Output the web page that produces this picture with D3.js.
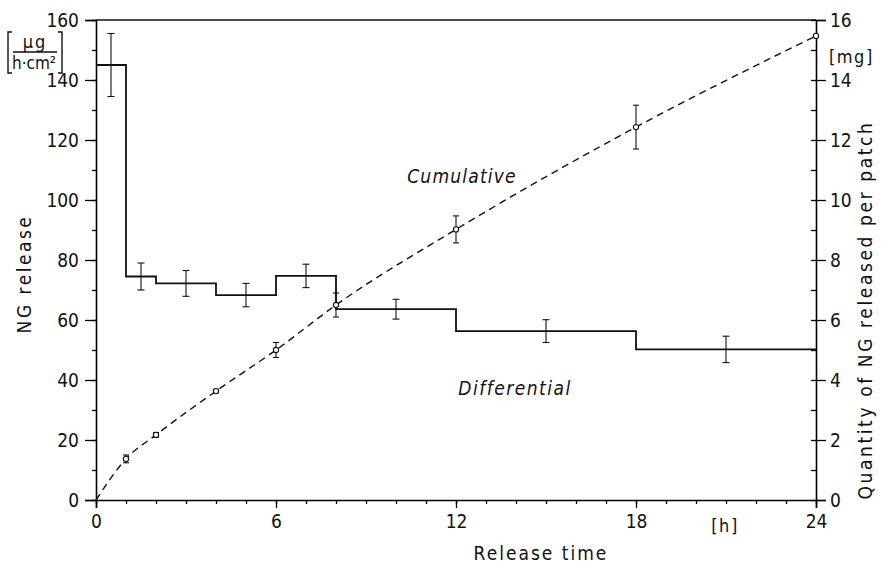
<!DOCTYPE html>
<html>
<head>
<meta charset="utf-8">
<script src="https://cdn.jsdelivr.net/npm/d3@7"></script>
<style>
  body { margin: 0; background: #fff; }
  svg text { fill: #111; }
</style>
</head>
<body>
<div id="chart"></div>
<script>
// differential release (left axis, µg/(h·cm²)), one value per collection interval
var binEdges = [0, 1, 2, 4, 6, 8, 12, 18, 24];
var diffRate = [145, 74.5, 72.2, 68.3, 74.7, 63.6, 56.3, 50.2];
var diffErr  = [10.5, 4.5, 4.3, 3.9, 3.9, 3.3, 3.8, 4.4];

// cumulative amount (right axis, mg per patch)
var cumTime = [0, 1, 2, 4, 6, 8, 12, 18, 24];
var cumMg   = [0, 1.37, 2.17, 3.63, 5.0, 6.5, 9.02, 12.43, 15.47];
var cumErr  = [0, 0.13, 0.08, 0.06, 0.25, 0.4, 0.45, 0.73, 0];

var xTicks = [0, 6, 12, 18, 24];
var leftTicks = [0, 20, 40, 60, 80, 100, 120, 140, 160];
var rightTicks = [0, 2, 4, 6, 8, 10, 12, 14, 16];

const width = 882, height = 567;
const margin = {top: 20, right: 66, bottom: 67, left: 96};
const FONT = "'Liberation Sans Narrow','DejaVu Sans Condensed',sans-serif";

var x = d3.scaleLinear().domain([0, 24]).range([margin.left, width - margin.right]);
var yL = d3.scaleLinear().domain([0, 160]).range([height - margin.bottom, margin.top]);
var yR = d3.scaleLinear().domain([0, 16]).range([height - margin.bottom, margin.top]);

var svg = d3.select("#chart").append("svg")
    .attr("width", width)
    .attr("height", height)
    .style("font-family", FONT)
    .style("font-stretch", "condensed");

// top frame line
svg.append("line")
    .attr("x1", x(0)).attr("x2", x(24))
    .attr("y1", yL(160)).attr("y2", yL(160))
    .attr("stroke", "#111").attr("stroke-width", 1.4);

// bottom axis: minor ticks each hour, then labelled ticks
var xAxisG = svg.append("g")
    .attr("transform", "translate(0," + yL(0) + ")");
xAxisG.append("g")
    .call(d3.axisBottom(x).ticks(24).tickSize(4).tickFormat(""))
    .call(g => g.select(".domain").remove());
xAxisG.append("g")
    .call(d3.axisBottom(x).tickValues(xTicks).tickSize(8).tickPadding(7).tickFormat(d3.format("d")))
    .call(g => g.selectAll("text").attr("font-size", 19).style("font-family", FONT));

// left axis
var yLG = svg.append("g").attr("transform", "translate(" + x(0) + ",0)");
yLG.append("g")
    .call(d3.axisLeft(yL).ticks(16).tickSize(4).tickFormat(""))
    .call(g => g.select(".domain").remove());
yLG.append("g")
    .call(d3.axisLeft(yL).tickValues(leftTicks).tickSize(11).tickPadding(6))
    .call(g => g.selectAll("text").attr("font-size", 19).style("font-family", FONT));

// right axis: minor ticks inward, majors outward
var yRG = svg.append("g").attr("transform", "translate(" + x(24) + ",0)");
yRG.append("g")
    .call(d3.axisLeft(yR).ticks(16).tickSize(5).tickFormat(""))
    .call(g => g.select(".domain").remove());
yRG.append("g")
    .call(d3.axisRight(yR).tickValues(rightTicks).tickSize(10).tickPadding(4))
    .call(g => g.selectAll("text").attr("font-size", 19).style("font-family", FONT));

svg.selectAll(".domain").attr("stroke-width", 1.6);
svg.selectAll(".tick line").attr("stroke-width", 1.3);

// differential step line
var stepPts = binEdges.map(function(e, i) {
  return {t: e, v: diffRate[Math.min(i, diffRate.length - 1)]};
});
var stepLine = d3.line()
    .x(function(d) { return x(d.t); })
    .y(function(d) { return yL(d.v); })
    .curve(d3.curveStepAfter);
svg.append("path")
    .attr("d", stepLine(stepPts))
    .attr("fill", "none")
    .attr("stroke", "#111")
    .attr("stroke-width", 1.8);

// error bars of differential values at interval midpoints
var diffBars = diffRate.map(function(v, i) {
  return {t: (binEdges[i] + binEdges[i + 1]) / 2, v: v, e: diffErr[i]};
});
function errorBars(sel, data, ys, cap) {
  var g = sel.append("g").attr("stroke", "#111").attr("stroke-width", 1.1);
  g.selectAll(".v").data(data).enter().append("line")
      .attr("x1", d => x(d.t)).attr("x2", d => x(d.t))
      .attr("y1", d => ys(d.v - d.e)).attr("y2", d => ys(d.v + d.e));
  g.selectAll(".top").data(data).enter().append("line")
      .attr("x1", d => x(d.t) - cap).attr("x2", d => x(d.t) + cap)
      .attr("y1", d => ys(d.v + d.e)).attr("y2", d => ys(d.v + d.e));
  g.selectAll(".bot").data(data).enter().append("line")
      .attr("x1", d => x(d.t) - cap).attr("x2", d => x(d.t) + cap)
      .attr("y1", d => ys(d.v - d.e)).attr("y2", d => ys(d.v - d.e));
}
errorBars(svg, diffBars, yL, 3.5);

// cumulative dashed curve
var cumPts = cumTime.map(function(t, i) { return {t: t, v: cumMg[i], e: cumErr[i]}; });
var cumLine = d3.line()
    .x(d => x(d.t))
    .y(d => yR(d.v))
    .curve(d3.curveMonotoneX);
svg.append("path")
    .attr("d", cumLine(cumPts))
    .attr("fill", "none")
    .attr("stroke", "#111")
    .attr("stroke-width", 1.4)
    .attr("stroke-dasharray", "7,5");

errorBars(svg, cumPts.filter(d => d.e > 0), yR, 3);

svg.append("g").selectAll("circle")
    .data(cumPts.slice(1))
    .enter().append("circle")
    .attr("cx", d => x(d.t))
    .attr("cy", d => yR(d.v))
    .attr("r", 2.6)
    .attr("fill", "#fff")
    .attr("stroke", "#111")
    .attr("stroke-width", 1.1);

// curve labels
svg.append("text")
    .attr("x", 462).attr("y", 183)
    .attr("text-anchor", "middle")
    .attr("font-size", 19).attr("font-style", "italic")
    .attr("letter-spacing", 1.2)
    .text("Cumulative");
svg.append("text")
    .attr("x", 515).attr("y", 395)
    .attr("text-anchor", "middle")
    .attr("font-size", 19).attr("font-style", "italic")
    .attr("letter-spacing", 1.5)
    .text("Differential");

// axis titles
svg.append("text")
    .attr("x", 541).attr("y", 560)
    .attr("text-anchor", "middle")
    .attr("font-size", 19).attr("letter-spacing", 2)
    .text("Release time");
svg.append("text")
    .attr("x", 725).attr("y", 532)
    .attr("text-anchor", "middle")
    .attr("font-size", 18).attr("letter-spacing", 1.5)
    .text("[h]");
svg.append("text")
    .attr("transform", "translate(31,274) rotate(-90)")
    .attr("text-anchor", "middle")
    .attr("font-size", 19).attr("letter-spacing", 2.5)
    .text("NG release");
svg.append("text")
    .attr("transform", "translate(872,310) rotate(-90)")
    .attr("text-anchor", "middle")
    .attr("font-size", 19).attr("letter-spacing", 2.6)
    .text("Quantity of NG released per patch");
svg.append("text")
    .attr("x", 829).attr("y", 63)
    .attr("font-size", 18).attr("letter-spacing", 1.5)
    .text("[mg]");

// unit of the left axis: [µg / (h·cm²)]
var unit = svg.append("g");
unit.append("text")
    .attr("x", 35).attr("y", 48)
    .attr("text-anchor", "middle")
    .attr("font-size", 18).attr("letter-spacing", 2)
    .text("µg");
unit.append("line")
    .attr("x1", 13).attr("x2", 57).attr("y1", 52).attr("y2", 52)
    .attr("stroke", "#111").attr("stroke-width", 1.3);
unit.append("text")
    .attr("x", 34).attr("y", 69)
    .attr("text-anchor", "middle")
    .attr("font-size", 17)
    .text("h·cm²");
unit.append("path")
    .attr("d", "M12,32 H8 V73 H12 M58,32 H62 V73 H58")
    .attr("fill", "none")
    .attr("stroke", "#111").attr("stroke-width", 1.4);
</script>
</body>
</html>
